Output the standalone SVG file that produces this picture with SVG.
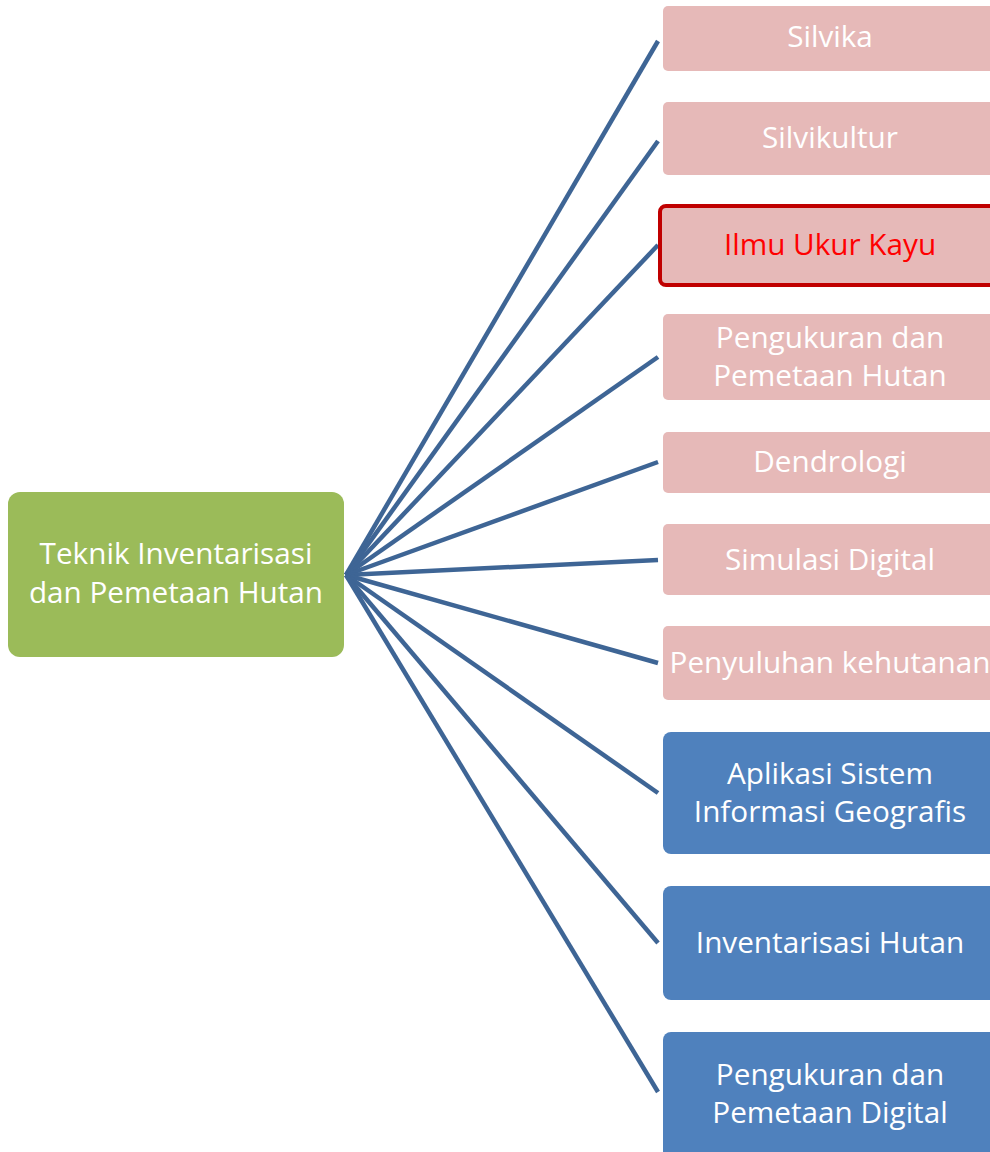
<svg xmlns="http://www.w3.org/2000/svg" width="990" height="1152" viewBox="0 0 990 1152">
<style>
.pink{fill:#E6B9B8}
.blue{fill:#4F81BD}
.t{font-family:"Open Sans","Noto Sans",sans-serif;font-size:29.7px;fill:#ffffff;text-anchor:middle;dominant-baseline:central}
.red{fill:#FF0000}
.c line{stroke:#3E6595;stroke-width:4.5;stroke-linecap:butt}
</style>
<rect width="990" height="1152" fill="#ffffff"/>
<g class="c" id="connectors">
<line x1="346" y1="575" x2="658" y2="41"/>
<line x1="346" y1="575" x2="658" y2="141"/>
<line x1="346" y1="575" x2="658" y2="245"/>
<line x1="346" y1="575" x2="658" y2="357"/>
<line x1="346" y1="575" x2="658" y2="462"/>
<line x1="346" y1="575" x2="658" y2="560"/>
<line x1="346" y1="575" x2="658" y2="663"/>
<line x1="346" y1="575" x2="658" y2="793"/>
<line x1="346" y1="575" x2="658" y2="943"/>
<line x1="346" y1="575" x2="658" y2="1092"/>
</g>
<g id="root">
<rect x="8" y="492" width="336" height="165" rx="12" fill="#9BBB59"/>
<text class="t" x="176" y="552">Teknik Inventarisasi</text>
<text class="t" x="176" y="591">dan Pemetaan Hutan</text>
</g>
<g id="n1"><rect class="pink" x="663" y="6" width="340" height="65" rx="5"/><text class="t" x="830" y="35">Silvika</text></g>
<g id="n2"><rect class="pink" x="663" y="102" width="340" height="73" rx="5"/><text class="t" x="830" y="136">Silvikultur</text></g>
<g id="n3"><rect class="pink" x="660" y="206" width="343" height="79" rx="6" stroke="#C00000" stroke-width="4"/><text class="t red" x="830" y="243">Ilmu Ukur Kayu</text></g>
<g id="n4"><rect class="pink" x="663" y="314" width="340" height="86" rx="5"/><text class="t" x="830" y="336">Pengukuran dan</text><text class="t" x="830" y="374">Pemetaan Hutan</text></g>
<g id="n5"><rect class="pink" x="663" y="432" width="340" height="61" rx="5"/><text class="t" x="830" y="460">Dendrologi</text></g>
<g id="n6"><rect class="pink" x="663" y="524" width="340" height="71" rx="5"/><text class="t" x="830" y="558">Simulasi Digital</text></g>
<g id="n7"><rect class="pink" x="663" y="626" width="340" height="74" rx="5"/><text class="t" x="830" y="661">Penyuluhan kehutanan</text></g>
<g id="n8"><rect class="blue" x="663" y="732" width="340" height="122" rx="8"/><text class="t" x="830" y="772">Aplikasi Sistem</text><text class="t" x="830" y="810">Informasi Geografis</text></g>
<g id="n9"><rect class="blue" x="663" y="886" width="340" height="114" rx="8"/><text class="t" x="830" y="941">Inventarisasi Hutan</text></g>
<g id="n10"><rect class="blue" x="663" y="1032" width="340" height="130" rx="8"/><text class="t" x="830" y="1073">Pengukuran dan</text><text class="t" x="830" y="1111">Pemetaan Digital</text></g>
</svg>
